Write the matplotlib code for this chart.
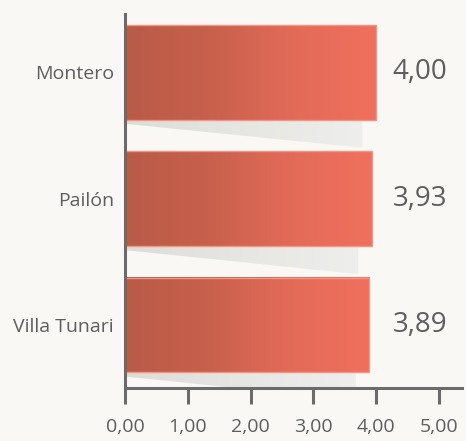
import numpy as np
import matplotlib
matplotlib.use("Agg")
import matplotlib.pyplot as plt
from matplotlib.colors import LinearSegmentedColormap
from matplotlib.patches import Polygon

categories = ["Montero", "Pailón", "Villa Tunari"]
values = [4.00, 3.93, 3.89]
xticks = [0, 1, 2, 3, 4, 5]
xtick_labels = ["0,00", "1,00", "2,00", "3,00", "4,00", "5,00"]

plt.rcParams['font.family'] = ['Open Sans', 'DejaVu Sans']
bg = '#f9f8f5'
txt = '#5e5e5e'
axc = '#6b6b6b'

fig = plt.figure(figsize=(4.66, 4.41), dpi=100, facecolor=bg)
W, H = 466, 441
x0p, x1p, y0p, y1p = 125, 462, 14, 388
ax = fig.add_axes([x0p / W, 1 - y1p / H, (x1p - x0p) / W, (y1p - y0p) / H])
ax.set_facecolor(bg)

unit_x = 62.8
unit_y = 126.5
top = -(72.5 - y0p) / unit_y
bottom = 2 + (y1p - 325) / unit_y

bar_h = 0.75
bar_cmap = LinearSegmentedColormap.from_list('bar', ['#b95b47', '#c7604c', '#e26b58', '#f0705d'])
shadow_cmap = LinearSegmentedColormap.from_list('sh', ['#dcdcd8', '#e6e6e3', '#eeeeec'])
grad = np.linspace(0, 1, 256).reshape(1, -1)

for i, v in enumerate(values):
    yt = i - bar_h / 2
    yb = i + bar_h / 2
    # shadow
    sw = v * 0.945
    poly = Polygon([(0, yb), (sw, yb), (sw, yb + 28 / unit_y), (0, yb + 4 / unit_y)],
                   closed=True, facecolor='none', edgecolor='none')
    ax.add_patch(poly)
    im = ax.imshow(grad, cmap=shadow_cmap, extent=[0, sw, yb + 28 / unit_y, yb],
                   aspect='auto', zorder=1)
    im.set_clip_path(poly)
    # bar
    ax.imshow(grad, cmap=bar_cmap, extent=[0, v, yb, yt], aspect='auto', zorder=2)
    ax.add_patch(plt.Rectangle((0, yt), v, bar_h, facecolor='none',
                               edgecolor='#f59483', lw=1.0, zorder=3))
    ax.text(4.70, i, f"{v:.2f}".replace('.', ','), ha='center', va='center',
            fontsize=20, color=txt)

ax.set_ylim(bottom, top)
ax.set_xlim(0, (x1p - x0p) / unit_x)

ax.set_yticks(range(len(categories)))
ax.set_yticklabels(categories, fontsize=14, color=txt)
ax.tick_params(axis='y', length=0, pad=8)
ax.set_xticks(xticks)
ax.set_xticklabels(xtick_labels, fontsize=14, color=txt)
ax.tick_params(axis='x', length=11.5, width=2.2, color=axc, direction='out', pad=10)

for s in ['top', 'right']:
    ax.spines[s].set_visible(False)
for s in ['left', 'bottom']:
    ax.spines[s].set_color(axc)
    ax.spines[s].set_linewidth(2.2)
ax.spines['left'].set_zorder(5)

fig.savefig('out.png', dpi=100, facecolor=bg)
